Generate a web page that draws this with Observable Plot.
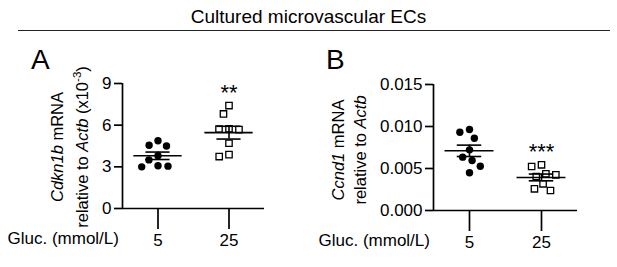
<!DOCTYPE html>
<html><head><meta charset="utf-8">
<script src="https://cdn.jsdelivr.net/npm/d3@7"></script>
<script src="https://cdn.jsdelivr.net/npm/@observablehq/plot@0.6"></script>
<style>
body{margin:0;background:#fff;}
#fig{position:relative;width:617px;height:267px;font-family:"Liberation Sans",Arial,sans-serif;color:#000;overflow:hidden;background:#fff}
#title{position:absolute;left:0;width:617px;top:6px;text-align:center;font-size:19px;line-height:22px;}
#rule{position:absolute;left:18px;width:592px;top:30px;height:0;border-top:1.5px solid #222;}
.letter{position:absolute;font-size:28px;line-height:28px;top:46px;}
.panel{position:absolute;top:40px;}
</style></head><body>
<div id="fig">
 <div id="title">Cultured microvascular ECs</div>
 <div id="rule"></div>
 <div class="letter" style="left:31px">A</div>
 <div class="letter" style="left:326px">B</div>
 <div id="pa" class="panel" style="left:0"></div>
 <div id="pb" class="panel" style="left:310px"></div>
</div>
<script>
// ---- data ----
const groups = ["5", "25"];
const xTitle = "Gluc. (mmol/L)";
const cdkn1b_5  = [4.88, 4.55, 4.50, 3.80, 3.50, 3.08, 3.00, 3.05];
const cdkn1b_25 = [7.41, 6.81, 5.74, 5.68, 5.72, 4.70, 3.74, 3.88];
const ccnd1_5   = [0.00964, 0.00932, 0.00860, 0.00722, 0.00635, 0.00595, 0.00527, 0.00449];
const ccnd1_25  = [0.00544, 0.00524, 0.00437, 0.00425, 0.00405, 0.00318, 0.00258, 0.00238];
const sigA = ["", "**"];
const sigB = ["", "***"];
const ticksA = [0, 3, 6, 9];
const ticksB = [0, 0.005, 0.010, 0.015];
const labelA = [[["Cdkn1b", "i"], [" mRNA", ""]],
                [["relative to ", ""], ["Actb", "i"], [" (x10", ""], ["-3", "s"], [")", ""]]];
const labelB = [[["Ccnd1", "i"], [" mRNA", ""]],
                [["relative to ", ""], ["Actb", "i"]]];

function swarm(values, toPx, D) {
  const order = d3.range(values.length).sort((a, b) => values[b] - values[a]);
  const placed = [], off = new Array(values.length);
  for (const i of order) {
    const py = toPx(values[i]);
    const cands = [0];
    for (const p of placed) {
      const dy = Math.abs(p.py - py);
      if (dy < D) { const dx = Math.sqrt(D * D - dy * dy); cands.push(p.x + dx, p.x - dx); }
    }
    cands.sort((a, b) => Math.abs(a) - Math.abs(b) || a - b);
    const c = cands.find(c => placed.every(p => (p.x - c) ** 2 + (p.py - py) ** 2 >= D * D - 1e-6));
    placed.push({x: c, py}); off[i] = c;
  }
  return off;
}

function panel(el, o) {
  const band = (o.width - o.marginLeft - o.marginRight) / 2;
  const toPx = d3.scaleLinear().domain([0, o.ymax]).range([o.height - o.marginBottom, o.marginTop]);
  const rows = [];
  o.series.forEach((vals, g) => {
    const off = swarm(vals, toPx, 10);
    vals.forEach((v, k) => rows.push({g, v, x: g + 0.5 + off[k] / band}));
  });
  const stats = o.series.map((vals, g) => {
    const m = d3.mean(vals), s = d3.deviation(vals) / Math.sqrt(vals.length);
    return {g, c: g + 0.5, mean: m, lo: m - s, hi: m + s, max: d3.max(vals), sig: o.sig[g]};
  });
  const sw = 1.7;
  const fs = 17;
  const svg = Plot.plot({
    width: o.width, height: o.height,
    marginLeft: o.marginLeft, marginRight: o.marginRight,
    marginTop: o.marginTop, marginBottom: o.marginBottom,
    style: {fontFamily: '"Liberation Sans", Arial, sans-serif', fontSize: fs + "px", color: "#000", background: "transparent", overflow: "visible"},
    x: {domain: [0, 2]},
    y: {domain: [0, o.ymax]},
    marks: [
      Plot.axisY(o.ticks, {tickSize: 8, tickPadding: 3, strokeWidth: sw, fontSize: fs, label: null, tickFormat: o.tickFormat}),
      Plot.axisX([0.5, 1.5], {tickSize: 21, tickPadding: 4, strokeWidth: sw, fontSize: fs, label: null, tickFormat: d => groups[Math.floor(d)]}),
      Plot.ruleX([0], {strokeWidth: sw}),
      Plot.ruleY([0], {strokeWidth: sw}),
      Plot.dot(rows.filter(d => d.g === 0), {x: "x", y: "v", r: 3.7, fill: "#000", stroke: "none"}),
      Plot.dot(rows.filter(d => d.g === 1), {x: "x", y: "v", symbol: "square", r: 3.6, fill: "#fff", stroke: "#000", strokeWidth: 1.3}),
      Plot.ruleY(stats, {x1: d => d.c - 0.34, x2: d => d.c + 0.34, y: "mean", strokeWidth: 1.6}),
      Plot.ruleY(stats, {x1: d => d.c - 0.17, x2: d => d.c + 0.17, y: "lo", strokeWidth: 1.6}),
      Plot.ruleY(stats, {x1: d => d.c - 0.17, x2: d => d.c + 0.17, y: "hi", strokeWidth: 1.6}),
      Plot.ruleX(stats, {x: "c", y1: "lo", y2: "hi", strokeWidth: 1.6}),
      Plot.text(stats, {x: "c", y: "max", text: "sig", dy: -13, fontSize: 22, ariaLabel: "sig"}),
      Plot.text([xTitle], {frameAnchor: "bottom-left", dx: o.xTitleDx, dy: 35, textAnchor: "start", fontSize: fs})
    ]
  });
  d3.select(svg).selectAll('g[aria-label="sig"] text').attr("letter-spacing", 3);
  o.label.forEach((line, li) => {
    const t = d3.select(svg).append("text")
      .attr("transform", `translate(${o.labelX[li]},${o.labelY}) rotate(-90)`)
      .attr("text-anchor", "middle").attr("dy", "0.35em")
      .attr("font-size", 16.5).attr("fill", "#000");
    line.forEach(([s, f]) => {
      const sp = t.append("tspan").text(s);
      if (f === "i") sp.attr("font-style", "italic");
      if (f === "s") sp.attr("font-size", 11.5).attr("dy", -7);
      if (f === "" && line.some(q => q[1] === "s") && s === ")") sp.attr("dy", 7);
    });
  });
  el.appendChild(svg);
}

panel(document.getElementById("pa"), {
  width: 300, height: 227, marginLeft: 122, marginRight: 36, marginTop: 43, marginBottom: 59,
  ymax: 9, ticks: ticksA, tickFormat: d => String(d), series: [cdkn1b_5, cdkn1b_25], sig: sigA,
  label: labelA, labelX: [57, 82], labelY: 107, xTitleDx: -115
});
panel(document.getElementById("pb"), {
  width: 307, height: 227, marginLeft: 123, marginRight: 40, marginTop: 44, marginBottom: 57,
  ymax: 0.015, ticks: ticksB, tickFormat: d3.format(".3f"), series: [ccnd1_5, ccnd1_25], sig: sigB,
  label: labelB, labelX: [28, 50], labelY: 110, xTitleDx: -115
});
</script>
</body></html>
